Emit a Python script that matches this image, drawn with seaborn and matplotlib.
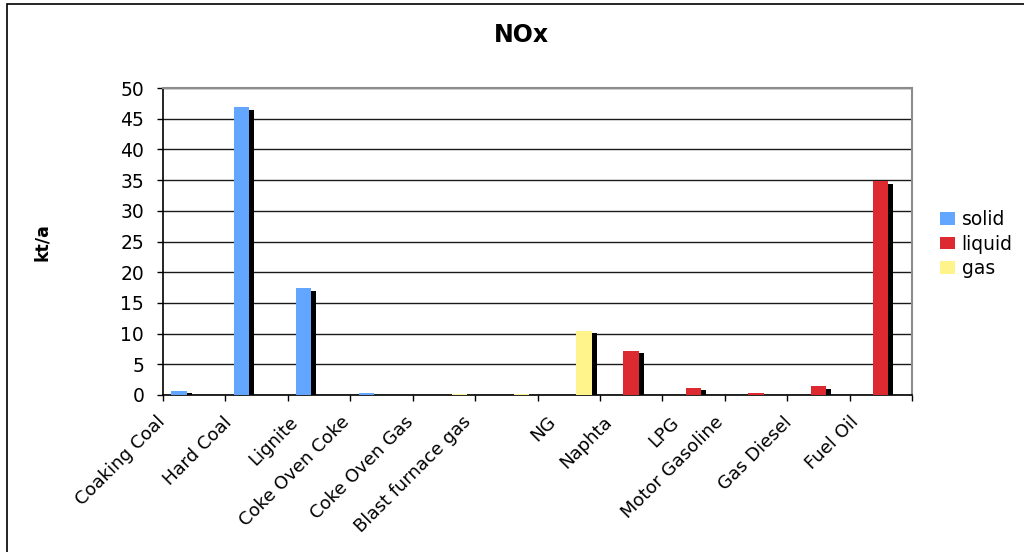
import matplotlib
matplotlib.use("Agg")
import matplotlib.pyplot as plt
import matplotlib.patheffects as pe
from matplotlib.patches import Patch, Rectangle
from matplotlib.transforms import ScaledTranslation
import numpy as np
import pandas as pd
import seaborn as sns

# NOx emissions by fuel, kt/a
categories = ["Coaking Coal", "Hard Coal", "Lignite", "Coke Oven Coke",
              "Coke Oven Gas", "Blast furnace gas", "NG", "Naphta", "LPG",
              "Motor Gasoline", "Gas Diesel", "Fuel Oil"]
solid = [0.7, 46.9, 17.4, 0.25, 0, 0, 0, 0, 0, 0, 0, 0]
liquid = [0, 0, 0, 0, 0, 0, 0, 7.2, 1.2, 0.3, 1.4, 34.8]
gas = [0, 0, 0, 0, 0.1, 0.1, 10.5, 0, 0, 0, 0, 0]
series = ["solid", "liquid", "gas"]
colors = ["#62A6FF", "#DD2A31", "#FFF48C"]
yticks = list(range(0, 55, 5))

df = pd.DataFrame({
    "fuel": categories * 3,
    "type": np.repeat(series, len(categories)),
    "value": solid + liquid + gas,
})

sns.set_style("white")
plt.rcParams["font.family"] = ["DejaVu Sans"]
plt.rcParams["text.color"] = "black"
plt.rcParams["axes.labelcolor"] = "black"
plt.rcParams["xtick.color"] = "black"
plt.rcParams["ytick.color"] = "black"

fig = plt.figure(figsize=(10.24, 5.52), dpi=100)
ax = fig.add_axes([163 / 1024, 1 - 395 / 552, (912 - 163) / 1024, (395 - 88) / 552])

sns.barplot(data=df, x="fuel", y="value", hue="type", order=categories,
            hue_order=series, palette=colors, saturation=1, width=0.735,
            linewidth=0, errorbar=None, ax=ax, zorder=3)

# drop shadow behind every bar
for bar in ax.patches:
    bar.set_path_effects([
        pe.SimplePatchShadow(offset=(3.6, -1.8), shadow_rgbFace="black", alpha=1.0),
        pe.Normal(),
    ])

ax.set_ylim(0, 50)
ax.set_xlim(-0.5, len(categories) - 0.5)
ax.set_yticks(yticks)
ax.yaxis.grid(True, color="#1a1a1a", linewidth=1.0, zorder=0)
ax.set_axisbelow(True)

for side in ["left", "bottom"]:
    ax.spines[side].set_color("black")
    ax.spines[side].set_linewidth(1.2)
for side in ["top", "right"]:
    ax.spines[side].set_color("#8c8c8c")
    ax.spines[side].set_linewidth(1.5)
    ax.spines[side].set_visible(True)

ax.tick_params(axis="y", left=True, length=4.5, width=1, color="black",
               pad=9, labelsize=13.5, labelcolor="black")

# category labels centred on each group, boundary tick marks between groups
ax.set_xticks(range(len(categories)))
ax.set_xticklabels(categories, rotation=45, ha="right", va="top",
                   rotation_mode="anchor", fontsize=13, color="black")
ax.tick_params(axis="x", which="major", length=0, pad=13)
ax.set_xticks(np.arange(-0.5, len(categories)), minor=True)
ax.tick_params(axis="x", which="minor", bottom=True, length=4.5, width=1,
               color="black")
for lab in ax.get_xticklabels():
    n = len(lab.get_text())
    dx = -min(19 + 1.6 * n, 44) / 100
    lab.set_transform(lab.get_transform() + ScaledTranslation(dx, 0, fig.dpi_scale_trans))

ax.set_xlabel("")
ax.set_ylabel("")
fig.text(42 / 1024, 1 - 242 / 552, "kt/a", rotation=90, ha="center",
         va="center", fontsize=12.5, fontweight="bold", color="black")
fig.text(521 / 1024, 1 - 35 / 552, "NOx", ha="center", va="center",
         fontsize=17, fontweight="bold", color="black")

handles = [Patch(facecolor=c, edgecolor="none") for c in colors]
ax.legend(handles, series, loc="upper left", frameon=False,
          bbox_to_anchor=(940 / 1024, 1 - 210 / 552),
          bbox_transform=fig.transFigure, fontsize=13.5, handlelength=0.8,
          handleheight=0.65, handletextpad=0.35, labelspacing=0.3,
          borderpad=0, borderaxespad=0)

# outer chart frame
fig.patches.append(Rectangle((7 / 1024, -0.1), 1.2, 1 - 4 / 552 + 0.1,
                             transform=fig.transFigure, fill=False,
                             edgecolor="black", linewidth=1.2))

fig.savefig("out.png", dpi=100)
